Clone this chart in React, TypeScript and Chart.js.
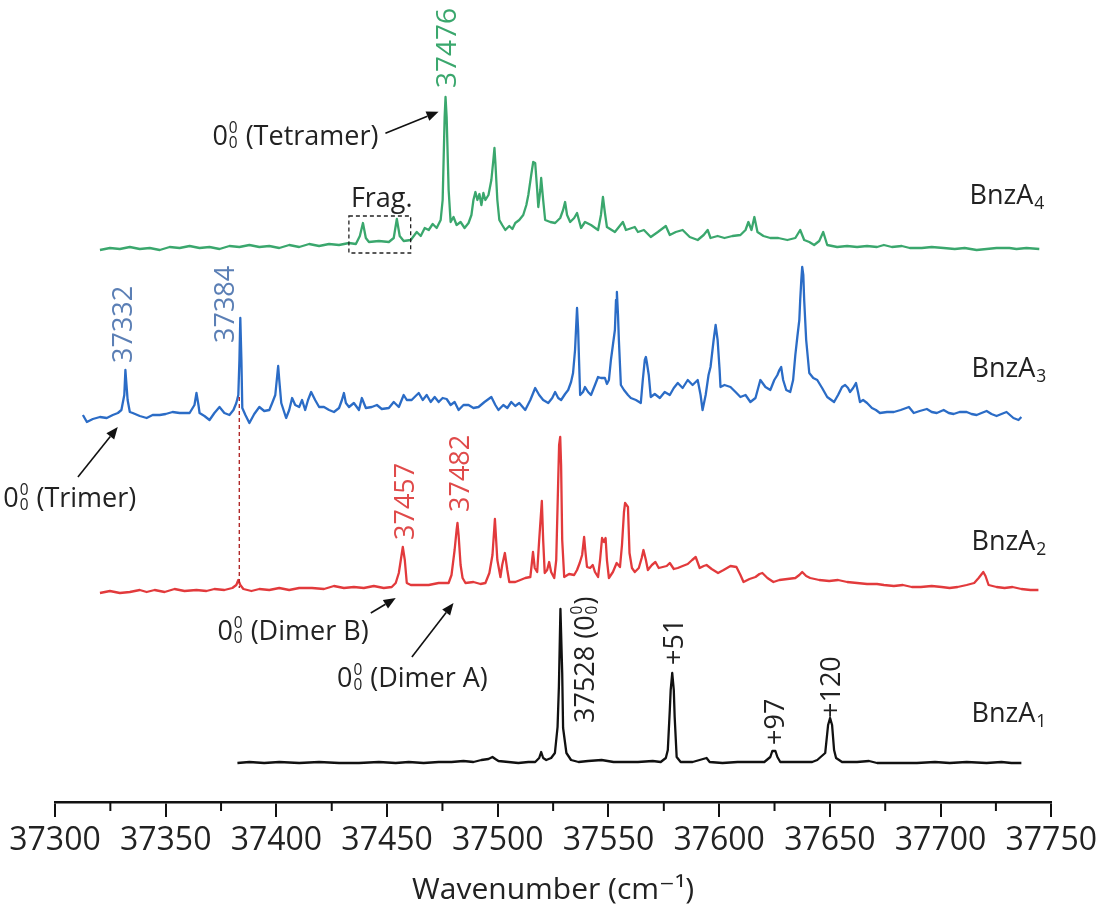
import { useEffect, useRef } from 'react';
import { Chart, registerables } from 'chart.js';

Chart.register(...registerables);

const FONT = "'Open Sans', 'DejaVu Sans', sans-serif";

// x-axis
const xMin = 37300;
const xMax = 37750;
const majorStep = 50;
const minorTicks = [37325, 37375, 37425, 37475, 37525, 37575, 37625, 37675, 37725];

// vertical offsets of the stacked spectra (BnzA1, BnzA2, BnzA3, BnzA4)
const spectrumOffsets = [38, 211, 386, 552];
const spectrumNames = ['BnzA[_1]', 'BnzA[_2]', 'BnzA[_3]', 'BnzA[_4]'];
const spectrumColors = ['#111111', '#e23a3c', '#2b6cc6', '#3aa76d'];

// [wavenumber (cm-1), intensity (a.u.)]
const bnzA1: [number, number][] = [
  [37382.4, 0], [37387.8, 1], [37394.5, 0], [37401.3, 1], [37410.3, 0], [37419.3, 1], [37428.3, 0], [37437.3, 0],
  [37446.3, 1], [37453.9, 0], [37459.8, 1], [37466.5, 0], [37473.3, 1], [37479.1, 1], [37484.5, 2], [37489.0, 1],
  [37492.6, 3], [37495.8, 4], [37497.6, 6], [37498.9, 4], [37500.3, 2], [37504.8, 1], [37509.3, 0], [37513.8, 1],
  [37516.9, 1], [37518.7, 5], [37519.6, 11], [37520.5, 5], [37521.9, 3], [37524.1, 5], [37525.8, 10], [37527.0, 36],
  [37527.6, 76], [37528.3, 154], [37529.1, 90], [37529.5, 35], [37531.0, 10], [37533.1, 3], [37536.5, 1], [37540.8, 2],
  [37546.9, 3], [37552.3, 1], [37556.8, 1], [37563.3, 1], [37570.0, 2], [37573.6, 1], [37575.9, 5], [37576.8, 13],
  [37577.7, 53], [37578.1, 73], [37578.8, 90], [37579.5, 73], [37579.9, 46], [37580.8, 6], [37582.6, 1], [37588.0, 1],
  [37594.3, 5], [37595.7, 1], [37601.5, 0], [37608.3, 1], [37615.0, 1], [37620.4, 1], [37623.1, 6], [37624.0, 12],
  [37625.4, 12], [37626.3, 6], [37627.6, 1], [37635.3, 1], [37642.0, 1], [37644.3, 3], [37647.9, 10], [37649.2, 38],
  [37650.1, 45], [37651.0, 38], [37651.9, 13], [37652.8, 5], [37655.5, 1], [37662.3, 1], [37667.7, 2], [37671.3, 0],
  [37680.3, 0], [37689.3, 0], [37697.5, 1], [37704.1, 0], [37711.8, 1], [37720.8, 0], [37727.5, 1], [37732.0, 0],
  [37736.5, 0],
];

const bnzA2: [number, number][] = [
  [37320.3, -3], [37324.8, -1], [37329.3, -3], [37333.8, -2], [37338.3, 0], [37341.4, -2], [37345.0, 0], [37349.5, -2],
  [37354.0, 1], [37358.5, -1], [37363.9, 0], [37368.4, -1], [37372.0, 1], [37376.5, 0], [37380.1, 2], [37381.9, 5],
  [37382.8, 10], [37383.7, 5], [37385.1, 1], [37388.7, -1], [37392.3, 1], [37396.8, 0], [37401.3, 2], [37405.8, 0],
  [37410.3, 2], [37416.1, 2], [37421.5, 1], [37426.0, 4], [37430.5, 2], [37435.0, 3], [37439.5, 2], [37444.0, 4],
  [37448.5, 2], [37452.1, 3], [37453.9, 7], [37455.3, 17], [37456.2, 30], [37457.1, 43], [37458.0, 30], [37458.9, 7],
  [37460.7, 5], [37464.3, 5], [37468.8, 5], [37473.3, 7], [37477.8, 7], [37479.1, 15], [37480.5, 40], [37481.4, 60],
  [37481.8, 67], [37482.3, 55], [37483.2, 25], [37484.1, 12], [37485.4, 7], [37489.0, 8], [37492.2, 6], [37494.4, 7],
  [37496.2, 17], [37497.6, 35], [37498.7, 71], [37499.8, 30], [37501.2, 13], [37502.0, 25], [37503.2, 37], [37504.3, 20],
  [37505.2, 8], [37507.9, 8], [37510.2, 10], [37512.4, 12], [37514.7, 13], [37515.3, 25], [37515.9, 38], [37516.7, 22],
  [37517.8, 18], [37518.7, 50], [37519.9, 89], [37520.5, 50], [37521.2, 17], [37522.3, 20], [37523.2, 28], [37524.1, 18],
  [37525.5, 12], [37526.4, 30], [37527.3, 110], [37527.7, 145], [37528.2, 153], [37528.6, 125], [37529.1, 50], [37530.0, 13],
  [37532.2, 16], [37534.5, 15], [37535.8, 20], [37537.0, 27], [37538.1, 35], [37539.0, 53], [37539.6, 38], [37540.3, 23],
  [37541.7, 22], [37542.9, 25], [37543.9, 18], [37545.3, 13], [37546.2, 30], [37547.1, 52], [37548.0, 48], [37548.7, 52],
  [37549.3, 30], [37550.2, 12], [37552.0, 18], [37553.7, 27], [37555.2, 23], [37556.1, 45], [37557.0, 78], [37557.5, 87],
  [37558.8, 83], [37559.5, 37], [37560.6, 22], [37561.9, 18], [37563.7, 22], [37565.0, 32], [37565.8, 40], [37566.9, 30],
  [37567.8, 20], [37569.6, 25], [37571.2, 28], [37572.7, 22], [37574.5, 23], [37576.3, 24], [37577.7, 27], [37579.5, 21],
  [37581.3, 22], [37583.5, 24], [37585.8, 26], [37587.8, 30], [37589.4, 33], [37591.2, 22], [37593.0, 24], [37594.3, 25],
  [37596.6, 21], [37599.5, 17], [37602.0, 20], [37605.1, 24], [37607.8, 23], [37609.6, 15], [37611.0, 8], [37613.7, 11],
  [37616.4, 13], [37618.2, 16], [37619.5, 17], [37621.8, 12], [37624.5, 8], [37627.2, 10], [37630.8, 11], [37634.4, 12],
  [37636.2, 15], [37637.5, 18], [37639.3, 14], [37641.1, 12], [37645.2, 10], [37649.7, 9], [37653.7, 10], [37657.8, 8],
  [37662.3, 7], [37666.8, 6], [37671.3, 6], [37674.4, 5], [37678.9, 4], [37683.0, 5], [37687.0, 3], [37691.1, 3],
  [37696.0, 4], [37700.5, 3], [37704.1, 2], [37707.7, 3], [37711.8, 5], [37715.2, 7], [37717.2, 12], [37719.3, 18],
  [37720.3, 14], [37721.7, 5], [37725.3, 3], [37728.9, 2], [37732.5, 3], [37736.5, 1], [37740.6, 0], [37744.2, 0],
];

const bnzA3: [number, number][] = [
  [37312.6, 0], [37314.4, -7], [37317.1, -4], [37320.3, -2], [37323.4, -3], [37326.1, 0], [37328.4, 2], [37330.0, 5],
  [37331.3, 20], [37331.8, 45], [37332.3, 30], [37332.8, 15], [37333.8, 3], [37335.1, 2], [37338.3, -1], [37341.4, -3],
  [37344.1, 0], [37347.3, 0], [37350.0, 1], [37353.1, 3], [37356.3, 2], [37360.8, 2], [37363.0, 10], [37363.9, 22],
  [37364.8, 10], [37365.3, 2], [37367.5, -1], [37369.8, -5], [37372.0, 2], [37374.3, 8], [37376.5, 2], [37378.8, 0],
  [37380.6, 5], [37381.9, 12], [37382.8, 20], [37383.3, 55], [37383.7, 97], [37384.2, 55], [37384.6, 7], [37386.0, 0],
  [37387.8, -8], [37390.0, 1], [37392.3, 8], [37394.5, 4], [37396.8, 5], [37398.1, 12], [37399.5, 20], [37400.4, 40],
  [37400.8, 49], [37401.3, 35], [37402.2, 12], [37404.4, -3], [37405.8, 5], [37407.1, 17], [37408.5, 10], [37410.3, 8],
  [37411.6, 15], [37413.0, 5], [37414.3, 15], [37415.7, 23], [37417.5, 15], [37419.3, 8], [37421.5, 8], [37423.8, 5],
  [37426.0, 3], [37428.3, 7], [37429.6, 15], [37430.5, 22], [37431.4, 12], [37432.8, 8], [37435.0, 12], [37437.3, 5],
  [37438.6, 17], [37440.4, 7], [37443.1, 8], [37445.4, 10], [37447.6, 6], [37450.8, 7], [37453.0, 13], [37455.3, 8],
  [37457.5, 20], [37458.9, 15], [37461.1, 15], [37462.9, 19], [37464.3, 22], [37466.1, 15], [37467.9, 20], [37469.7, 13],
  [37471.5, 18], [37473.3, 13], [37475.1, 17], [37476.9, 16], [37478.7, 10], [37480.5, 13], [37482.3, 5], [37484.5, 10],
  [37486.8, 10], [37489.0, 7], [37491.3, 8], [37494.0, 13], [37497.1, 18], [37498.9, 10], [37500.3, 5], [37502.5, 10],
  [37504.3, 7], [37506.1, 13], [37507.9, 9], [37509.7, 12], [37512.4, 5], [37514.7, 15], [37516.9, 27], [37518.7, 20],
  [37520.5, 15], [37522.8, 12], [37524.6, 17], [37525.9, 23], [37527.3, 17], [37528.6, 15], [37530.4, 21], [37531.8, 25],
  [37533.1, 33], [37534.0, 42], [37534.9, 65], [37535.8, 107], [37536.3, 85], [37536.7, 55], [37537.2, 20], [37538.5, 23],
  [37539.4, 28], [37540.8, 23], [37542.1, 20], [37543.9, 30], [37545.3, 38], [37546.6, 37], [37548.4, 37], [37549.3, 31],
  [37550.2, 35], [37551.1, 55], [37552.0, 70], [37552.9, 85], [37553.4, 115], [37553.8, 123], [37554.3, 100], [37554.7, 75],
  [37555.6, 30], [37557.0, 25], [37558.8, 20], [37560.1, 17], [37562.4, 15], [37564.6, 12], [37565.5, 35], [37566.4, 55],
  [37566.9, 58], [37567.3, 53], [37568.2, 40], [37569.1, 18], [37570.9, 21], [37573.2, 17], [37575.4, 23], [37577.7, 20],
  [37579.5, 27], [37581.3, 32], [37583.5, 27], [37585.8, 35], [37588.0, 30], [37590.3, 35], [37591.6, 20], [37592.5, 5],
  [37593.9, 20], [37595.2, 40], [37596.1, 48], [37597.5, 75], [37598.4, 90], [37599.3, 75], [37600.2, 45], [37600.6, 28],
  [37602.4, 30], [37605.1, 28], [37607.4, 23], [37609.6, 18], [37611.9, 20], [37614.1, 13], [37616.4, 17], [37618.6, 35],
  [37620.9, 28], [37623.1, 25], [37624.9, 35], [37626.3, 40], [37627.2, 45], [37628.0, 48], [37628.9, 35], [37630.3, 25],
  [37632.1, 23], [37633.4, 35], [37634.4, 60], [37635.3, 78], [37636.2, 95], [37636.6, 115], [37637.1, 135], [37637.5, 148],
  [37638.0, 140], [37638.4, 115], [37639.3, 75], [37640.7, 42], [37642.5, 37], [37644.3, 35], [37646.5, 27], [37648.8, 18],
  [37651.9, 13], [37653.7, 20], [37655.5, 28], [37656.9, 30], [37658.2, 27], [37659.1, 23], [37660.5, 27], [37661.8, 32],
  [37662.7, 23], [37663.6, 13], [37665.0, 15], [37666.8, 12], [37669.0, 7], [37670.8, 5], [37672.6, 2], [37675.8, 3],
  [37678.9, 3], [37682.0, 5], [37685.7, 8], [37687.9, 2], [37690.6, 4], [37693.8, 6], [37696.0, 3], [37698.3, 2],
  [37701.4, 5], [37703.7, 2], [37705.9, 1], [37708.6, 3], [37711.8, 3], [37714.0, 1], [37716.3, 0], [37718.5, 2],
  [37720.8, 4], [37723.0, 1], [37725.3, -1], [37727.5, 1], [37729.8, 3], [37732.9, -3], [37735.2, -5], [37736.5, -2],
];

const bnzA4: [number, number][] = [
  [37320.3, -1], [37324.8, 1], [37329.3, 0], [37333.8, 2], [37338.3, 0], [37342.8, 1], [37347.3, -1], [37351.8, 2],
  [37356.3, 1], [37360.8, 3], [37365.3, 1], [37369.8, 2], [37374.3, 0], [37378.8, 3], [37383.3, 2], [37387.8, 4],
  [37392.3, 2], [37396.8, 3], [37401.3, 1], [37405.8, 4], [37410.3, 2], [37414.8, 5], [37419.3, 3], [37423.8, 5],
  [37428.3, 4], [37432.8, 6], [37435.9, 5], [37437.7, 13], [37439.1, 26], [37440.4, 11], [37441.8, 7], [37446.3, 8],
  [37450.8, 7], [37453.0, 11], [37454.4, 30], [37455.7, 13], [37457.5, 8], [37460.7, 9], [37463.4, 17], [37465.2, 13],
  [37467.0, 21], [37468.8, 19], [37470.6, 25], [37472.4, 21], [37474.2, 29], [37475.1, 49], [37476.0, 132], [37476.4, 152],
  [37476.9, 132], [37477.8, 59], [37478.7, 27], [37480.0, 32], [37481.4, 24], [37483.2, 27], [37485.0, 21], [37486.8, 26],
  [37488.1, 34], [37489.0, 49], [37489.9, 57], [37490.8, 49], [37491.7, 55], [37492.6, 44], [37493.5, 56], [37494.4, 49],
  [37495.8, 54], [37497.1, 69], [37498.0, 89], [37498.5, 101], [37498.9, 87], [37499.8, 49], [37500.7, 29], [37502.0, 24],
  [37503.4, 19], [37505.2, 23], [37506.6, 20], [37507.9, 26], [37509.7, 29], [37511.5, 34], [37512.9, 44], [37513.8, 54],
  [37515.1, 74], [37516.0, 87], [37516.9, 86], [37517.8, 59], [37518.3, 42], [37519.2, 59], [37519.6, 71], [37520.5, 49],
  [37521.4, 29], [37523.7, 27], [37525.9, 26], [37528.2, 31], [37529.5, 39], [37530.4, 47], [37531.3, 34], [37532.7, 27],
  [37534.5, 31], [37535.8, 36], [37537.6, 21], [37539.4, 27], [37542.1, 24], [37545.3, 19], [37546.6, 34], [37547.5, 52],
  [37548.4, 36], [37549.3, 22], [37552.9, 17], [37556.5, 27], [37557.9, 19], [37561.9, 22], [37563.3, 17], [37566.0, 19],
  [37569.1, 12], [37572.3, 17], [37575.9, 23], [37577.7, 14], [37580.4, 17], [37583.5, 19], [37586.7, 12], [37590.3, 9],
  [37593.0, 14], [37594.8, 19], [37596.1, 11], [37599.3, 13], [37602.4, 11], [37606.0, 13], [37609.6, 14], [37611.9, 19],
  [37613.2, 27], [37614.6, 19], [37615.9, 32], [37617.3, 17], [37620.0, 13], [37623.1, 11], [37626.7, 11], [37630.8, 9],
  [37634.4, 11], [37636.6, 19], [37638.4, 9], [37640.7, 7], [37642.9, 4], [37645.2, 8], [37647.0, 17], [37648.8, 4],
  [37653.3, 2], [37657.8, 3], [37662.3, 2], [37666.8, 3], [37671.3, 2], [37674.4, 4], [37678.0, 2], [37682.5, 3],
  [37686.1, 1], [37691.5, 1], [37696.0, 2], [37701.4, 1], [37706.4, 0], [37710.9, 1], [37716.3, -1], [37720.8, 0],
  [37725.3, 1], [37731.1, 1], [37734.3, 0], [37738.8, 1], [37744.6, 0],
];

const spectra = [bnzA1, bnzA2, bnzA3, bnzA4];

// Annotations: text, anchor (wavenumber, plot value), colour, font size, rotated?
type Note = { text: string; wn: number; v: number; color: string; size: number; rotate?: boolean };
const peakLabels: Note[] = [
  { text: '37476', wn: 37476.4, v: 713, color: '#3aa76d', size: 28, rotate: true },
  { text: '37332', wn: 37330.6, v: 438, color: '#5b7fb5', size: 27, rotate: true },
  { text: '37384', wn: 37376.5, v: 458, color: '#5b7fb5', size: 27, rotate: true },
  { text: '37457', wn: 37457.95, v: 261, color: '#e04a4a', size: 27, rotate: true },
  { text: '37482', wn: 37482.7, v: 289, color: '#e04a4a', size: 27, rotate: true },
  { text: '37528 (0[s0])', wn: 37538.95, v: 78, color: '#222222', size: 27, rotate: true },
  { text: '+51', wn: 37579.45, v: 136, color: '#222222', size: 27, rotate: true },
  { text: '+97', wn: 37624.9, v: 56, color: '#222222', size: 27, rotate: true },
  { text: '+120', wn: 37650.1, v: 83, color: '#222222', size: 27, rotate: true },
];
const nameLabelPos: [number, number][] = [
  [37714.0, 79], [37714.0, 251], [37714.0, 424], [37713.1, 597],
];
const originLabels: Note[] = [
  { text: '0[s0] (Tetramer)', wn: 37371.1, v: 656, color: '#222222', size: 27 },
  { text: 'Frag.', wn: 37433.65, v: 594, color: '#222222', size: 27 },
  { text: '0[s0] (Trimer)', wn: 37276.6, v: 294, color: '#222222', size: 27 },
  { text: '0[s0] (Dimer B)', wn: 37373.35, v: 161, color: '#222222', size: 27 },
  { text: '0[s0] (Dimer A)', wn: 37427.35, v: 114, color: '#222222', size: 27 },
];
// arrows: [tail wn, tail v, head wn, head v]
const arrows: [number, number, number, number][] = [
  [37449.25, 667.7, 37473.25, 689.3],
  [37310.35, 324, 37328.35, 374],
  [37442.65, 188, 37453.9, 203],
  [37461.2, 144, 37480.0, 198],
];
const fragBox: [number, number, number, number] = [37432.75, 585, 37460.65, 548];
const dimerLink: [number, number, number] = [37383.25, 404, 213];

function drawRich(ctx: CanvasRenderingContext2D, text: string, x: number, y: number, size: number, color: string) {
  const parts = text.split(/(\[[s_][^\]]*\])/).filter((p) => p.length > 0);
  ctx.fillStyle = color;
  ctx.textAlign = 'left';
  ctx.textBaseline = 'alphabetic';
  let cx = x;
  for (const p of parts) {
    if (p.startsWith('[s')) {
      const c = p.slice(2, -1);
      ctx.font = `${size * 0.57}px ${FONT}`;
      ctx.fillText(c, cx + 1, y - size * 0.44);
      ctx.fillText(c, cx + 1, y + size * 0.12);
      cx += ctx.measureText(c).width + 2;
    } else if (p.startsWith('[_')) {
      const c = p.slice(2, -1);
      ctx.font = `${size * 0.65}px ${FONT}`;
      ctx.fillText(c, cx + 1, y + size * 0.18);
      cx += ctx.measureText(c).width + 1;
    } else {
      ctx.font = `${size}px ${FONT}`;
      ctx.fillText(p, cx, y);
      cx += ctx.measureText(p).width;
    }
  }
}

function drawArrow(ctx: CanvasRenderingContext2D, x1: number, y1: number, x2: number, y2: number) {
  const ang = Math.atan2(y2 - y1, x2 - x1);
  const hl = 12;
  const hw = 5;
  const bx = x2 - hl * Math.cos(ang);
  const by = y2 - hl * Math.sin(ang);
  ctx.strokeStyle = '#111';
  ctx.fillStyle = '#111';
  ctx.lineWidth = 1.6;
  ctx.setLineDash([]);
  ctx.beginPath();
  ctx.moveTo(x1, y1);
  ctx.lineTo(bx, by);
  ctx.stroke();
  ctx.beginPath();
  ctx.moveTo(x2, y2);
  ctx.lineTo(bx + hw * Math.sin(ang), by - hw * Math.cos(ang));
  ctx.lineTo(bx - hw * Math.sin(ang), by + hw * Math.cos(ang));
  ctx.closePath();
  ctx.fill();
}

const annotationPlugin = {
  id: 'spectraNotes',
  afterDraw(chart: any) {
    const { ctx, scales } = chart;
    const xs = scales.x;
    const ys = scales.y;
    const px = (w: number) => xs.getPixelForValue(w);
    const py = (v: number) => ys.getPixelForValue(v);
    ctx.save();

    // minor ticks
    ctx.strokeStyle = '#111';
    ctx.lineWidth = 2;
    const base = chart.chartArea.bottom;
    for (const t of minorTicks) {
      const x = px(t);
      ctx.beginPath();
      ctx.moveTo(x, base);
      ctx.lineTo(x, base + 9);
      ctx.stroke();
    }

    // dashed link between trimer and dimer traces
    ctx.strokeStyle = '#b02a2a';
    ctx.lineWidth = 1.4;
    ctx.setLineDash([4, 3]);
    ctx.beginPath();
    ctx.moveTo(px(dimerLink[0]), py(dimerLink[1]));
    ctx.lineTo(px(dimerLink[0]), py(dimerLink[2]));
    ctx.stroke();

    // dashed fragment box
    ctx.strokeStyle = '#222';
    ctx.lineWidth = 1.3;
    ctx.setLineDash([4, 3]);
    const bx1 = px(fragBox[0]);
    const by1 = py(fragBox[1]);
    const bx2 = px(fragBox[2]);
    const by2 = py(fragBox[3]);
    ctx.strokeRect(bx1, by1, bx2 - bx1, by2 - by1);
    ctx.setLineDash([]);

    for (const a of arrows) drawArrow(ctx, px(a[0]), py(a[1]), px(a[2]), py(a[3]));

    for (const n of originLabels) drawRich(ctx, n.text, px(n.wn), py(n.v), n.size, n.color);

    spectrumNames.forEach((name, i) => {
      const [w, v] = nameLabelPos[i];
      drawRich(ctx, name, px(w), py(v), 27, '#222222');
    });

    for (const n of peakLabels) {
      ctx.save();
      ctx.translate(px(n.wn), py(n.v));
      ctx.rotate(-Math.PI / 2);
      drawRich(ctx, n.text, 0, n.size * 0.36, n.size, n.color);
      ctx.restore();
    }
    ctx.restore();
  },
};

export default function App() {
  const canvasRef = useRef<HTMLCanvasElement | null>(null);

  useEffect(() => {
    const canvas = canvasRef.current;
    if (!canvas) return;
    const datasets = spectra.map((s, i) => ({
      label: spectrumNames[i],
      data: s.map(([w, v]) => ({ x: w, y: v + spectrumOffsets[i] })),
      borderColor: spectrumColors[i],
      backgroundColor: spectrumColors[i],
      borderWidth: 2.3,
      pointRadius: 0,
      tension: 0,
      borderJoinStyle: 'round' as const,
      fill: false,
    }));
    const chart = new Chart(canvas, {
      type: 'line',
      data: { datasets },
      options: {
        animation: false,
        responsive: false,
        events: [],
        layout: { padding: { left: 55, right: 47, top: 0, bottom: 0 } },
        plugins: { legend: { display: false }, tooltip: { enabled: false } },
        scales: {
          x: {
            type: 'linear',
            min: xMin,
            max: xMax,
            afterFit: (s: any) => {
              s.height = 106;
            },
            ticks: {
              stepSize: majorStep,
              callback: (v: any) => String(v),
              font: { size: 32, family: FONT },
              color: '#222',
              padding: 5,
              maxRotation: 0,
              autoSkip: false,
            },
            grid: {
              display: true,
              drawOnChartArea: false,
              drawTicks: true,
              tickLength: 15,
              color: '#111',
              lineWidth: 2,
            },
            border: { display: true, color: '#111', width: 2.5 },
            title: {
              display: true,
              text: 'Wavenumber (cm⁻¹)',
              font: { size: 30, family: FONT },
              color: '#222',
              padding: 0,
            },
          },
          y: { display: false, min: -1, max: 801 },
        },
      },
      plugins: [annotationPlugin],
    } as any);
    return () => chart.destroy();
  }, []);

  return (
    <div style={{ position: 'absolute', left: 0, top: 0, width: 1102, height: 908, background: '#fff' }}>
      <canvas ref={canvasRef} width={1102} height={908} style={{ display: 'block' }} />
    </div>
  );
}
